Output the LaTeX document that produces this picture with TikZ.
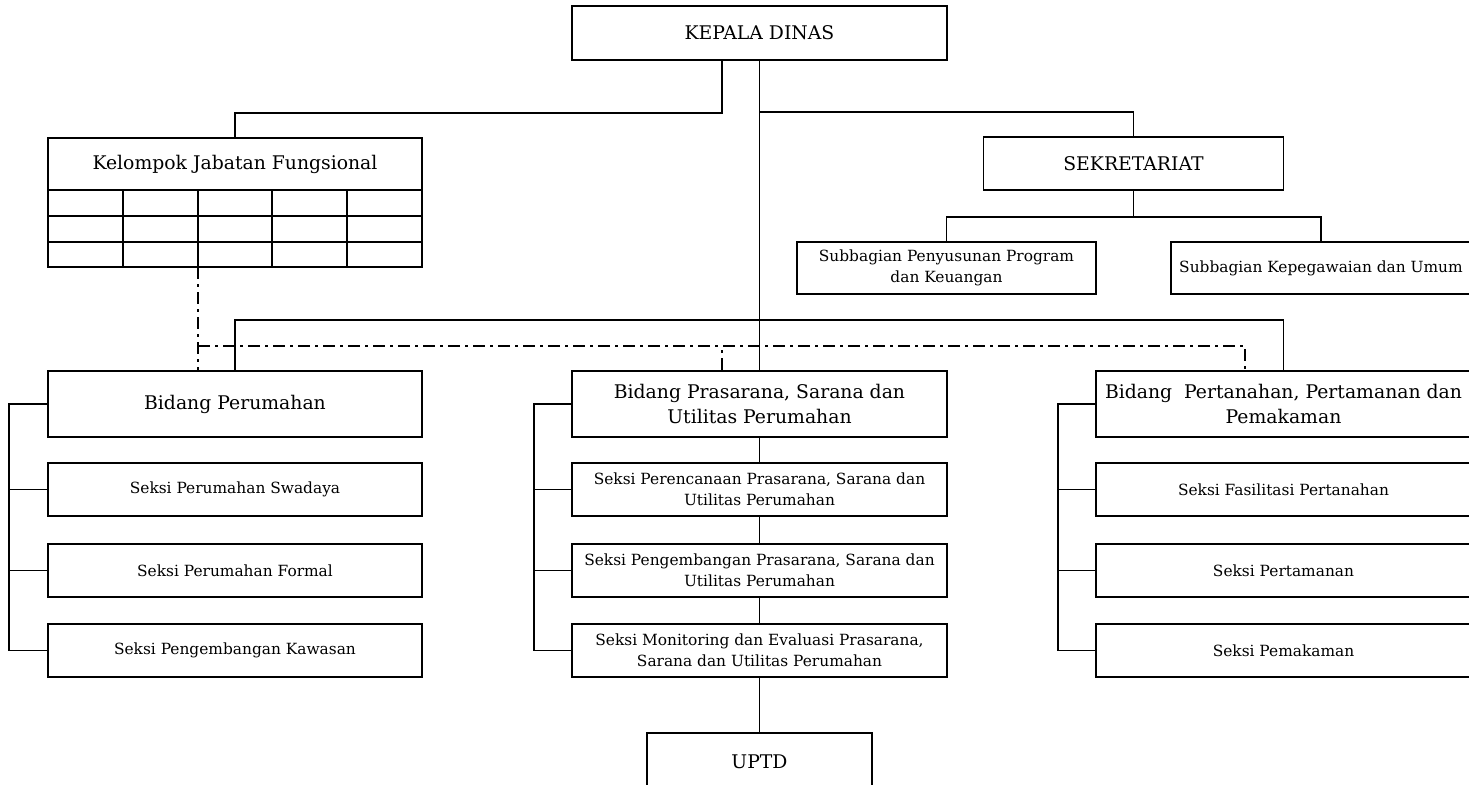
\documentclass[tikz,border=0pt]{standalone}
\usepackage{fontspec}
\setmainfont{DejaVu Serif}
\usetikzlibrary{positioning}
\begin{document}
\begin{tikzpicture}[x=0.5pt,y=-0.5pt,line width=0.8pt,
  box/.style={draw,rectangle,inner sep=0pt,align=center,fill=white},
  big/.style={font=\fontsize{9.4}{12.5}\selectfont},
  small/.style={font=\fontsize{7.7}{10.5}\selectfont},
  fline/.style={dash pattern=on 6pt off 2.5pt on 1.5pt off 2.5pt}]
\useasboundingbox (0,0) rectangle (1469,784);

\node[box,big,minimum width=187.5pt,minimum height=27pt] (kd) at (759.5,33) {KEPALA DINAS};
\node[box,big,minimum width=187pt,minimum height=26pt] (kf) at (235,164) {Kelompok Jabatan Fungsional};
\node[box,big,minimum width=150pt,minimum height=26.5pt] (sk) at (1133.5,163.5) {SEKRETARIAT};
\node[box,small,minimum width=149.5pt,minimum height=26pt] (sb1) at (946.5,268) {Subbagian Penyusunan Program\\dan Keuangan};
\node[box,small,minimum width=150pt,minimum height=26pt] (sb2) at (1321,268) {Subbagian Kepegawaian dan Umum};

% grid under kelompok jabatan fungsional
\draw (48,190) rectangle (422,267);
\draw (48,216) -- (422,216);
\draw (48,242) -- (422,242);
\foreach \x in {123,198,272,347}
  \draw (\x,190) -- (\x,267);
\coordinate (kg) at (198,267);

\node[box,big,minimum width=187pt,minimum height=33pt] (b1) at (235,404) {Bidang Perumahan};
\node[box,small,minimum width=187pt,minimum height=26.5pt] (s11) at (235,489.5) {Seksi Perumahan Swadaya};
\node[box,small,minimum width=187pt,minimum height=26.5pt] (s12) at (235,570.5) {Seksi Perumahan Formal};
\node[box,small,minimum width=187pt,minimum height=26.5pt] (s13) at (235,650.5) {Seksi Pengembangan Kawasan};

\node[box,big,minimum width=187.5pt,minimum height=33pt] (b2) at (759.5,404) {Bidang Prasarana, Sarana dan\\Utilitas Perumahan};
\node[box,small,minimum width=187.5pt,minimum height=26.5pt] (s21) at (759.5,489.5) {Seksi Perencanaan Prasarana, Sarana dan\\Utilitas Perumahan};
\node[box,small,minimum width=187.5pt,minimum height=26.5pt] (s22) at (759.5,570.5) {Seksi Pengembangan Prasarana, Sarana dan\\Utilitas Perumahan};
\node[box,small,minimum width=187.5pt,minimum height=26.5pt] (s23) at (759.5,650.5) {Seksi Monitoring dan Evaluasi Prasarana,\\Sarana dan Utilitas Perumahan};

\node[box,big,minimum width=187.5pt,minimum height=33pt] (b3) at (1283.5,404) {Bidang\ \ Pertanahan, Pertamanan dan\\Pemakaman};
\node[box,small,minimum width=187.5pt,minimum height=26.5pt] (s31) at (1283.5,489.5) {Seksi Fasilitasi Pertanahan};
\node[box,small,minimum width=187.5pt,minimum height=26.5pt] (s32) at (1283.5,570.5) {Seksi Pertamanan};
\node[box,small,minimum width=187.5pt,minimum height=26.5pt] (s33) at (1283.5,650.5) {Seksi Pemakaman};

\node[box,big,minimum width=112.5pt,minimum height=28.5pt] (up) at (759.5,761.5) {UPTD};

\coordinate (j1) at (759.5,112);
\coordinate (j3) at (759.5,320);
\draw ([xshift=-18.75pt]kd.south) -- ++(0,52) -| (kf.north);
\draw (kd.south) -- (b2.north);
\draw (j1) -| (sk.north);
\draw (sk.south) -- ++(0,26) coordinate (j2);
\draw (sb1.north) |- (j2) -| (sb2.north);
\draw (b1.north) |- (j3) -| (b3.north);

\draw[fline] (kg) -- (kg |- b1.north);
\draw[fline] (kg |- 0,346) -| ([xshift=-19.25pt]b3.north);
\draw[fline] ([xshift=-18.75pt]b2.north) -- ++(0,-25);

\draw (b1.west) -- ++(-38,0) |- (s13.west);
\draw (s11.west) -- ++(-38,0);
\draw (s12.west) -- ++(-38,0);
\draw (b2.west) -- ++(-37,0) |- (s23.west);
\draw (s21.west) -- ++(-37,0);
\draw (s22.west) -- ++(-37,0);
\draw (b3.west) -- ++(-37,0) |- (s33.west);
\draw (s31.west) -- ++(-37,0);
\draw (s32.west) -- ++(-37,0);

\draw (b2) edge (s21) (s21) edge (s22) (s22) edge (s23) (s23) edge (up);
\end{tikzpicture}
\end{document}
